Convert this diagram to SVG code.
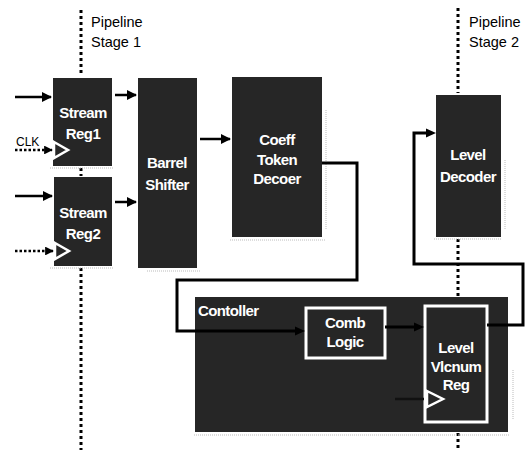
<svg xmlns="http://www.w3.org/2000/svg" width="530" height="450" viewBox="0 0 530 450">
<defs>
<marker id="ah" viewBox="0 0 10 10" refX="9" refY="5" markerWidth="4" markerHeight="4" orient="auto" markerUnits="strokeWidth">
<path d="M0,0 L10,5 L0,10 z" fill="#000"/>
</marker>
<marker id="ahd" viewBox="0 0 10 10" refX="9" refY="5" markerWidth="3.5" markerHeight="3.5" orient="auto" markerUnits="strokeWidth">
<path d="M0,0 L10,5 L0,10 z" fill="#000"/>
</marker>
</defs>
<style>
.blk{fill:#262626;}
.shadow{fill:none;stroke:#bbb;stroke-width:1;stroke-dasharray:1 1;}
.lbl{font-family:"Liberation Sans",Arial,sans-serif;font-weight:bold;font-size:15px;fill:#fff;text-anchor:middle;letter-spacing:-0.6px;}
.stage{font-family:"Liberation Sans",Arial,sans-serif;font-size:14.5px;fill:#000;}
.pipe{fill:none;stroke:#000;stroke-width:3;stroke-dasharray:3 3;}
.arr{fill:none;stroke:#000;stroke-width:2.5;marker-end:url(#ah);}
.clk{fill:none;stroke:#000;stroke-width:2.5;stroke-dasharray:2.5 2;marker-end:url(#ahd);}
.wire{fill:none;stroke:#000;stroke-width:3;}
.inner{fill:none;stroke:#fff;stroke-width:3;}
.tri{fill:#262626;stroke:#fff;stroke-width:2.5;}
</style>
<rect width="530" height="450" fill="#fff"/>

<g id="pipeline-stage-1">
<path class="pipe" d="M81,10 V76 M81,168 V176 M81,268 V450"/>
<text class="stage" x="91" y="27">Pipeline</text>
<text class="stage" x="91" y="47">Stage 1</text>
</g>
<g id="pipeline-stage-2">
<path class="pipe" d="M458,8 V93 M458,239 V297 M458,433 V450"/>
<text class="stage" x="469" y="27">Pipeline</text>
<text class="stage" x="469" y="47">Stage 2</text>
</g>

<g id="stream-reg1">
<path class="shadow" d="M50,168 H113"/>
<rect class="blk" x="53" y="78" width="59" height="88"/>
<polygon class="tri" points="54,142 68,150 54,158"/>
<text class="lbl" x="83" y="118">Stream</text>
<text class="lbl" x="83" y="139">Reg1</text>
</g>
<g id="stream-reg2">
<path class="shadow" d="M50,268 H114"/>
<rect class="blk" x="54" y="177" width="58" height="89"/>
<polygon class="tri" points="55,243 69,251 55,259"/>
<text class="lbl" x="83" y="218">Stream</text>
<text class="lbl" x="83" y="239">Reg2</text>
</g>
<g id="barrel-shifter">
<path class="shadow" d="M147,271 H200"/>
<rect class="blk" x="138" y="78" width="59" height="190"/>
<text class="lbl" x="167" y="168">Barrel</text>
<text class="lbl" x="167" y="190">Shifter</text>
</g>
<g id="coeff-token-decoer">
<path class="shadow" d="M230,240 H326 M326,110 V230"/>
<rect class="blk" x="232" y="77" width="90" height="160"/>
<text class="lbl" x="277" y="145">Coeff</text>
<text class="lbl" x="277" y="165">Token</text>
<text class="lbl" x="277" y="184">Decoer</text>
</g>
<g id="level-decoder">
<path class="shadow" d="M434,239 H502 M505,160 V230"/>
<rect class="blk" x="436" y="95" width="65" height="142"/>
<text class="lbl" x="468" y="160">Level</text>
<text class="lbl" x="468" y="182">Decoder</text>
</g>
<g id="controller">
<path class="shadow" d="M194,435 H510 M513,370 V420"/>
<rect class="blk" x="195" y="297" width="313" height="135"/>
<text class="lbl" x="198" y="316" style="text-anchor:start">Contoller</text>
</g>
<g id="comb-logic">
<rect class="inner" x="306" y="308" width="79" height="50" fill="#262626"/>
<text class="lbl" x="345" y="328">Comb</text>
<text class="lbl" x="345" y="347">Logic</text>
</g>
<g id="level-vlcnum-reg">
<rect class="inner" x="425" y="306" width="62" height="116" fill="#262626"/>
<polygon class="tri" points="427,391 443,399 427,407"/>
<text class="lbl" x="456" y="353">Level</text>
<text class="lbl" x="456" y="372">Vlcnum</text>
<text class="lbl" x="456" y="390">Reg</text>
</g>

<g id="connectors">
<text class="stage" x="16" y="146" style="font-size:12px">CLK</text>
<path class="arr" d="M15,97 H51"/>
<path class="clk" d="M15,150 H52"/>
<path class="arr" d="M15,196 H52"/>
<path class="clk" d="M15,251 H53"/>
<path class="arr" d="M115,95 H136"/>
<path class="arr" d="M115,202 H136"/>
<path class="arr" d="M200,139 H230"/>
<path class="wire" d="M322,163 H357 V280 H177 V331 H298"/>
<path class="wire" d="M385,327 H417"/>
<path class="wire" d="M487,325 H523 V264 H414 V133 H428"/>
<path d="M436,133 L426,128.5 V137.5 z" fill="#000"/>
<path d="M305,331 L295,326.5 V335.5 z" fill="#000"/>
<path d="M424,327 L414,322.5 V331.5 z" fill="#000"/>
<path fill="none" stroke="#111" stroke-width="2.5" d="M395,399 H424"/>
</g>
</svg>
